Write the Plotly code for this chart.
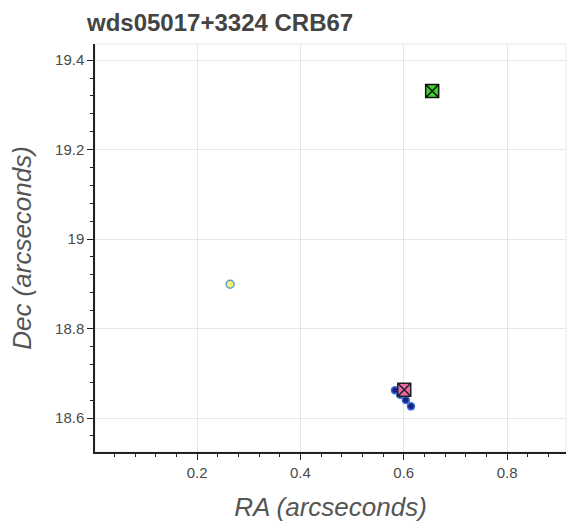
import plotly.graph_objects as go

# data
title_text = "wds05017+3324 CRB67"
ra_obs = [0.583, 0.593, 0.604, 0.614]
dec_obs = [18.662, 18.652, 18.640, 18.626]
ra_ref = [0.264]
dec_ref = [18.899]
ra_green = [0.655]
dec_green = [19.331]
ra_pink = [0.601]
dec_pink = [18.663]
x_range = [0.0025, 0.914]
y_range = [18.524, 19.436]

W, H = 570, 531
L, R, T, B = 95, 4, 44, 79
FONT = "Liberation Sans, Arial, sans-serif"

fig = go.Figure()
fig.add_trace(go.Scatter(x=ra_obs, y=dec_obs, mode="markers",
                         marker=dict(size=7, color="#1a237e", line=dict(color="#3b6fd6", width=1.5))))
fig.add_trace(go.Scatter(x=ra_ref, y=dec_ref, mode="markers",
                         marker=dict(size=8, color="#f2f07a", line=dict(color="#5a9fd4", width=1.5))))
fig.add_trace(go.Scatter(x=ra_pink, y=dec_pink, mode="markers",
                         marker=dict(symbol="square-x", size=13, color="#ee68a8", line=dict(color="#222222", width=1.5))))
fig.add_trace(go.Scatter(x=ra_green, y=dec_green, mode="markers",
                         marker=dict(symbol="square-x", size=13, color="#3ad42a", line=dict(color="#111111", width=1.5))))

axis_common = dict(
    showgrid=True, gridcolor="#e6e6e6", gridwidth=1,
    showline=True, linecolor="#222222", linewidth=1.5,
    ticks="outside", ticklen=6, tickwidth=1.2, tickcolor="#222222",
    tickfont=dict(family=FONT, size=15, color="#4a4a4a"),
    zeroline=False, mirror=False,
    title_font=dict(family=FONT, size=26, color="#555555"),
)

fig.update_xaxes(**axis_common, range=x_range, tick0=0, dtick=0.2,
                 minor=dict(dtick=0.04, ticklen=3, tickcolor="#222222", tickwidth=1, showgrid=False, ticks="outside"),
                 title_text="<i>RA (arcseconds)</i>", title_standoff=18)
fig.update_yaxes(**axis_common, range=y_range, tick0=18.6, dtick=0.2,
                 minor=dict(dtick=0.04, ticklen=3, tickcolor="#222222", tickwidth=1, showgrid=False, ticks="outside"),
                 title_text="<i>Dec (arcseconds)</i>", title_standoff=16)

fig.update_layout(
    width=W, height=H,
    margin=dict(l=L, r=R, t=T, b=B, autoexpand=False),
    paper_bgcolor="white", plot_bgcolor="white",
    showlegend=False,
    title=dict(text="<b>" + title_text + "</b>", xref="container", yref="container",
               x=87 / W, xanchor="left", y=1 - 22.5 / H, yanchor="middle",
               font=dict(family=FONT, size=24, color="#444444")),
)

# light outline around frame (top/right)
fig.add_shape(type="rect", xref="paper", yref="paper", x0=0, y0=0, x1=1, y1=1,
              line=dict(color="#e6e6e6", width=1), layer="below")

fig.write_html("out.html")
